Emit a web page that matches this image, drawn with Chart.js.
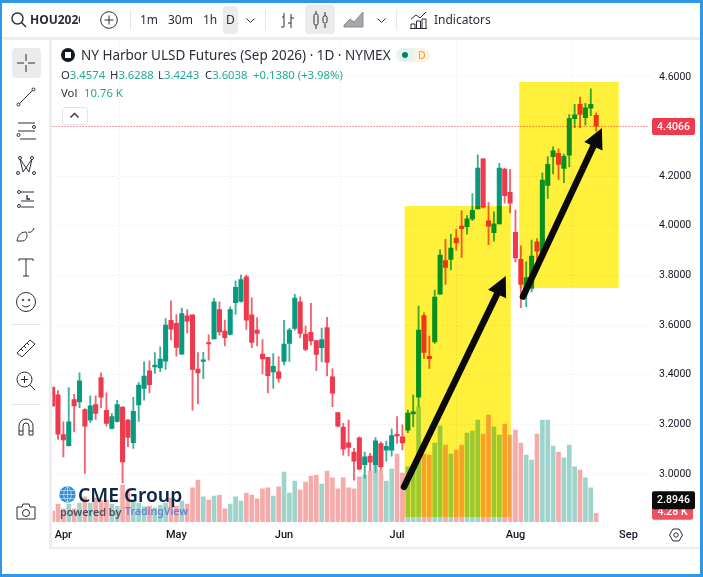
<!DOCTYPE html>
<html>
<head>
<meta charset="utf-8">
<title>NY Harbor ULSD Futures</title>
<script src="https://cdn.jsdelivr.net/npm/chart.js@4/dist/chart.umd.min.js"></script>
<style>
    html, body { margin: 0; padding: 0; background: #fff; }
    #page { position: relative; width: 703px; height: 577px; overflow: hidden; background: #fff; font-family: "Noto Sans", sans-serif; color: #131722; }
    #page > * { position: absolute; }
    canvas { left: 0; top: 0; z-index: 1; }
    .frame { background: #2f97e6; z-index: 5; }
    .band { background: #eceef1; }
    .bg { background: #ebebeb; border-radius: 4px; }
    .tb { top: 11px; font-size: 12px; line-height: 18px; z-index: 2; white-space: nowrap; color: #2a2e39; }
    .leg { font-size: 11.3px; line-height: 14px; white-space: nowrap; z-index: 2; color: #2a2e39; }
    .leg b { font-weight: 400; color: #22ab94; }
    .sep { background: #e6e8ec; width: 1px; }
    svg { fill: none; stroke: #2a2e39; stroke-width: 1; overflow: visible; z-index: 2; }
    .logo { z-index: 3; white-space: nowrap; }
</style>
</head>
<body>
<div id="page">
    <canvas id="priceChart" width="703" height="577"></canvas>

    <div class="frame" style="left:0;top:0;width:703px;height:3px"></div>
    <div class="frame" style="left:0;top:0;width:2px;height:577px"></div>
    <div class="frame" style="left:700px;top:0;width:3px;height:577px"></div>
    <div class="frame" style="left:0;top:574px;width:703px;height:3px"></div>
    <div class="band" style="left:2px;top:37px;width:698px;height:3px"></div>
    <div class="band" style="left:49px;top:40px;width:3px;height:508px"></div>
    <div class="band" style="left:49px;top:547px;width:651px;height:2px"></div>

    <!-- top toolbar -->
    <svg style="left:11px;top:12px" width="16" height="16"><circle cx="6.5" cy="6.5" r="5.5" stroke-width="1.4"/><path d="M10.5 10.5L15 15" stroke-width="1.4"/></svg>
    <div class="tb" style="left:30px;width:50px;overflow:hidden;font-weight:700">HOU2026</div>
    <svg style="left:100px;top:11px" width="18" height="18"><circle cx="9" cy="9" r="8.3"/><path d="M9 4.5v9M4.5 9h9"/></svg>
    <div class="sep" style="left:130px;top:10px;height:20px"></div>
    <div class="tb" style="left:140px">1m</div>
    <div class="tb" style="left:168px">30m</div>
    <div class="tb" style="left:203px">1h</div>
    <div class="bg" style="left:223px;top:6px;width:15px;height:28px"></div>
    <div class="tb" style="left:226px">D</div>
    <svg style="left:246px;top:18px" width="9" height="5"><path d="M.5 .5l4 4 4-4"/></svg>
    <div class="sep" style="left:265px;top:10px;height:20px"></div>
    <svg style="left:280px;top:12px" width="14" height="17"><path d="M4 1v14M1 15h3M4 5h-2M11 2v14M11 6h3M11 11h-3"/></svg>
    <div class="bg" style="left:305px;top:5px;width:30px;height:29px"></div>
    <svg style="left:313px;top:10px" width="15" height="20"><rect x="1" y="4" width="4" height="11" rx="1.5"/><path d="M3 1v3M3 15v4M12 2v4M12 14v4"/><rect x="10" y="6" width="4" height="7" rx="1.5"/></svg>
    <svg style="left:343px;top:11px" width="22" height="17"><path d="M1 14l6-6 4 3 9-10v15H1z" fill="#a5a7ad" stroke="#8a8d94"/></svg>
    <svg style="left:377px;top:18px" width="9" height="5"><path d="M.5 .5l4 4 4-4"/></svg>
    <div class="sep" style="left:396px;top:10px;height:20px"></div>
    <svg style="left:410px;top:11px" width="17" height="18"><path d="M1 8l5-4 4 3 6-6M1 17v-4h4v4M6.500 17v-7h4v7M12 17v-9h4v9M0 17.500h17"/></svg>
    <div class="tb" style="left:434px">Indicators</div>

    <!-- left tool column -->
    <div class="bg" style="left:12px;top:48px;width:29px;height:30px"></div>
    <svg style="left:16px;top:53px" width="20" height="20"><path d="M10 1v7M10 12v7M1 10h7M12 10h7"/></svg>
    <svg style="left:16px;top:87px" width="20" height="20"><path d="M3.500 16.500L16.500 3.500"/><circle cx="2.500" cy="17.500" r="1.500"/><circle cx="17.500" cy="2.500" r="1.500"/></svg>
    <svg style="left:16px;top:121px" width="20" height="20"><path d="M2 2h17M2 10h17M4 18h16"/><circle cx="18" cy="6" r="1.500"/><circle cx="2.500" cy="14" r="1.500"/></svg>
    <svg style="left:16px;top:155px" width="20" height="20"><path d="M4 4l3 13M16 4l-3 13M4 4l9 13M16 4l-9 13"/><circle cx="4" cy="3" r="1.500"/><circle cx="16" cy="3" r="1.500"/><circle cx="2" cy="18" r="1.500"/><circle cx="18" cy="18" r="1.500"/></svg>
    <svg style="left:16px;top:189px" width="20" height="20"><path d="M5 3h13M5 12h13M5 18h13"/><circle cx="3" cy="3" r="1.500"/><circle cx="3" cy="17" r="1.500"/><path d="M11 6v4h3" stroke-width="1.300"/></svg>
    <svg style="left:16px;top:224px" width="20" height="20"><path d="M1 17c1-7 5-9 9-9 2 3 1 8-3 9z"/><path d="M12 8c3 1 5-1 6-4"/></svg>
    <svg style="left:18px;top:258px" width="16" height="20"><path d="M1 3V1h14v2M8 1v17M5 18h6"/></svg>
    <svg style="left:16px;top:292px" width="20" height="20"><circle cx="10" cy="10" r="9.500"/><circle cx="7" cy="8" r=".8"/><circle cx="13" cy="8" r=".8"/><path d="M6 13c2 2.500 6 2.500 8 0"/></svg>
    <div class="sep" style="left:11px;top:324px;width:30px;height:1px"></div>
    <svg style="left:16px;top:338px" width="20" height="20"><path d="M1 15L14 2l5 4L6 19zM5 11l2 2M8 8l2 2M11 5l2 2"/></svg>
    <svg style="left:16px;top:371px" width="20" height="20"><circle cx="8.500" cy="8.500" r="7.500"/><path d="M14 14l5 5M8.500 5v7M5 8.500h7"/></svg>
    <div class="sep" style="left:11px;top:404px;width:30px;height:1px"></div>
    <svg style="left:18px;top:418px" width="16" height="18"><path d="M1 17V8a7 7 0 0 1 14 0v9h-4V8a3 3 0 0 0-6 0v9zM1 13h4M11 13h4"/></svg>
    <svg style="left:16px;top:503px" width="20" height="17"><path d="M1 4h5l1-3h6l1 3h5v12H1z"/><circle cx="10" cy="10" r="3.500"/></svg>

    <!-- legend -->
    <div style="left:61px;top:48px;width:14px;height:14px;border-radius:50%;background:#131722;z-index:2"></div>
    <div style="left:65px;top:52px;width:6px;height:6px;background:#fff;z-index:2"></div>
    <div class="leg" id="title" style="left:81px;top:46px;font-size:13.500px;line-height:18px">NY Harbor ULSD Futures (Sep 2026) · 1D · NYMEX</div>
    <div style="left:396px;top:48px;width:18px;height:14px;background:#e5f4f1;border-radius:7px 0 0 7px;z-index:2"></div>
    <div style="left:414px;top:48px;width:16px;height:14px;background:#fdf3e3;border-radius:0 7px 7px 0;z-index:2"></div>
    <div style="left:402px;top:52px;width:6px;height:6px;border-radius:50%;background:#087f6c;z-index:2"></div>
    <div class="leg" style="left:418px;top:48px;font-size:10.500px;color:#f59d2a">D</div>
    <div class="leg" style="left:61px;top:68px">O<b>3.4574</b></div>
    <div class="leg" style="left:110px;top:68px">H<b>3.6288</b></div>
    <div class="leg" style="left:158px;top:68px">L<b>3.4243</b></div>
    <div class="leg" style="left:205px;top:68px">C<b>3.6038</b></div>
    <div class="leg" style="left:253px;top:68px"><b>+0.1380 (+3.98%)</b></div>
    <div class="leg" style="left:61px;top:86px">Vol</div>
    <div class="leg" style="left:84px;top:86px"><b>10.76 K</b></div>
    <div style="left:62px;top:107px;width:24px;height:16px;background:#fff;border:1px solid #e0e3eb;border-radius:3px;z-index:2"></div>
    <svg style="left:70px;top:113px" width="9" height="5"><path d="M.5 4.500l4-4 4 4" stroke-width="1.400"/></svg>

    <!-- watermark -->
    <svg class="logo" style="left:59px;top:486px" width="17" height="17"><circle cx="8.500" cy="8.500" r="8.200" fill="#2a8fd6" stroke="none"/><path d="M.3 8.500h16.400M1.500 4.500h14M1.500 12.500h14M8.500 .3v16.400M8.500 .5c-5 4-5 12 0 16M8.500 .5c5 4 5 12 0 16" stroke="#cfe6f7" stroke-width=".7"/></svg>
    <div class="logo" style="left:78px;top:482px;font-size:19.300px;line-height:26px;font-weight:600;color:#0b2545">CME Group</div>
    <div class="logo" style="left:60px;top:504px;font-size:10.800px;line-height:15px;font-weight:600;color:#4b4f5c">powered by</div>
    <div class="logo" style="left:125px;top:504px;font-size:10.500px;line-height:15px;font-weight:600;color:#6d7fd0">TradingView</div>

    <!-- settings wheel -->
    <svg style="left:669px;top:528px" width="14" height="14"><path d="M4 1h6l3.500 6-3.500 6H4L.5 7z"/><circle cx="7" cy="7" r="2.200"/></svg>
</div>

<script>
// Daily candles, oldest first (Apr to late Aug)
const opens = [
    3.349, 3.319, 3.159, 3.114, 3.300, 3.291, 3.260, 3.217, 3.280, 3.389,
    3.257, 3.184, 3.212, 3.270, 3.217, 3.126, 3.278, 3.345, 3.416, 3.432,
    3.428, 3.455, 3.619, 3.607, 3.483, 3.637, 3.641, 3.423, 3.454, 3.529,
    3.544, 3.663, 3.576, 3.563, 3.690, 3.696, 3.795, 3.641, 3.580, 3.483,
    3.470, 3.411, 3.412, 3.454, 3.526, 3.587, 3.694, 3.564, 3.571, 3.538,
    3.509, 3.590, 3.392, 3.248, 3.189, 3.126, 3.088, 3.146, 3.038, 3.072,
    3.038, 3.123, 3.096, 3.096, 3.157, 3.150, 3.177, 3.242, 3.310, 3.638,
    3.474, 3.532, 3.725, 3.860, 3.865, 3.951, 3.999, 3.997, 4.028, 4.068,
    4.270, 4.020, 3.973, 4.008, 4.229, 4.135, 3.974, 3.865, 3.748, 3.748,
    3.936, 3.896, 4.163, 4.279, 4.292, 4.232, 4.285, 4.432, 4.490, 4.436,
    4.474, 4.445
];
const highs = [
    3.352, 3.336, 3.210, 3.348, 3.321, 3.408, 3.264, 3.315, 3.315, 3.408,
    3.327, 3.244, 3.297, 3.271, 3.220, 3.309, 3.368, 3.452, 3.456, 3.489,
    3.513, 3.626, 3.698, 3.643, 3.669, 3.663, 3.641, 3.489, 3.490, 3.561,
    3.708, 3.694, 3.620, 3.674, 3.779, 3.802, 3.802, 3.710, 3.630, 3.542,
    3.470, 3.485, 3.473, 3.619, 3.587, 3.724, 3.714, 3.596, 3.688, 3.538,
    3.588, 3.631, 3.424, 3.248, 3.204, 3.217, 3.103, 3.150, 3.088, 3.083,
    3.147, 3.130, 3.133, 3.181, 3.231, 3.198, 3.258, 3.318, 3.677, 3.650,
    3.556, 3.741, 3.903, 3.946, 3.966, 3.987, 4.061, 4.041, 4.130, 4.286,
    4.271, 4.095, 4.057, 4.252, 4.232, 4.228, 4.064, 3.920, 3.855, 3.943,
    3.949, 4.214, 4.279, 4.319, 4.310, 4.289, 4.449, 4.490, 4.519, 4.494,
    4.552, 4.456
];
const lows = [
    3.271, 3.139, 3.069, 3.112, 3.170, 3.267, 3.002, 3.208, 3.220, 3.267,
    3.193, 3.182, 3.209, 2.964, 3.110, 3.103, 3.212, 3.298, 3.327, 3.405,
    3.412, 3.421, 3.540, 3.475, 3.483, 3.569, 3.257, 3.282, 3.384, 3.459,
    3.544, 3.560, 3.516, 3.560, 3.643, 3.693, 3.583, 3.509, 3.516, 3.403,
    3.327, 3.345, 3.370, 3.440, 3.454, 3.580, 3.549, 3.497, 3.520, 3.416,
    3.452, 3.395, 3.271, 3.190, 3.076, 3.073, 2.975, 3.016, 2.982, 3.013,
    3.005, 3.018, 3.052, 3.072, 3.123, 3.097, 3.167, 3.191, 3.271, 3.466,
    3.426, 3.526, 3.725, 3.764, 3.822, 3.903, 3.873, 3.967, 4.021, 4.068,
    4.071, 3.924, 3.938, 4.008, 4.091, 4.053, 3.855, 3.670, 3.674, 3.734,
    3.855, 3.896, 4.111, 4.209, 4.187, 4.174, 4.238, 4.396, 4.396, 4.406,
    4.444, 4.382
];
const closes = [
    3.274, 3.161, 3.137, 3.210, 3.274, 3.376, 3.193, 3.275, 3.244, 3.310,
    3.204, 3.231, 3.280, 3.049, 3.147, 3.253, 3.358, 3.395, 3.360, 3.439,
    3.463, 3.600, 3.584, 3.510, 3.647, 3.616, 3.421, 3.407, 3.459, 3.524,
    3.694, 3.573, 3.549, 3.663, 3.752, 3.784, 3.620, 3.530, 3.567, 3.464,
    3.396, 3.434, 3.385, 3.524, 3.580, 3.709, 3.567, 3.502, 3.536, 3.482,
    3.542, 3.450, 3.326, 3.193, 3.100, 3.107, 3.052, 3.020, 3.069, 3.048,
    3.134, 3.029, 3.112, 3.155, 3.154, 3.125, 3.246, 3.251, 3.580, 3.490,
    3.465, 3.713, 3.882, 3.833, 3.911, 3.931, 3.989, 4.028, 4.063, 4.233,
    4.075, 3.999, 4.008, 4.233, 4.122, 4.091, 3.871, 3.764, 3.792, 3.878,
    3.898, 4.185, 4.248, 4.302, 4.248, 4.280, 4.432, 4.447, 4.449, 4.476,
    4.490, 4.402
];
// Volume in thousands
const volumes = [
    5.4, 8.8, 6.4, 8.8, 6.4, 9.3, 12.3, 9.3, 11.8, 10.8,
    10.8, 8.8, 7.8, 18.1, 14.7, 9.8, 9.3, 7.4, 7.8, 6.9,
    8.3, 9.3, 11.8, 7.8, 10.3, 8.8, 16.7, 20.6, 12.3, 10.8,
    12.7, 13.2, 6.4, 8.8, 12.3, 10.3, 14.2, 13.2, 11.3, 16.2,
    16.7, 12.7, 17.2, 24.5, 14.2, 20.1, 15.7, 19.6, 22.5, 23.0,
    18.6, 25.0, 21.6, 16.2, 21.6, 16.7, 16.2, 22.1, 23.0, 25.0,
    27.9, 25.5, 20.1, 26.0, 33.3, 24.0, 27.0, 27.9, 56.4, 33.3,
    32.8, 38.7, 47.0, 37.7, 33.3, 35.3, 37.7, 43.6, 44.6, 50.0,
    43.1, 52.4, 46.6, 42.6, 48.0, 42.6, 45.1, 38.7, 32.8, 30.4,
    43.1, 50.0, 50.0, 37.2, 34.3, 31.4, 37.7, 27.0, 25.5, 21.6,
    16.7, 4.28
];

const monthNames = ['Apr', 'May', 'Jun', 'Jul', 'Aug', 'Sep'];
const monthStarts = [2, 23, 43, 64, 86, 107];
const priceTicks = [3.0, 3.2, 3.4, 3.6, 3.8, 4.0, 4.2, 4.6];
const dayCount = 112;

const lastPrice = 4.4066;
const cursorPrice = 2.8946;
const lastVolume = '4.28 K';

// Highlight boxes and arrows, in bar index and price
const boxStarts = [65.4, 86.7];
const boxEnds = [85.13, 105.2];
const boxTops = [4.08, 4.58];
const boxBottoms = [2.827, 3.75];
const arrowFromX = [65.3, 87.4];
const arrowFromY = [2.948, 3.715];
const arrowToX = [84.2, 102.06];
const arrowToY = [3.798, 4.394];

const UP = '#089981';
const DOWN = '#ef3a4d';
const UP_WICK = '#3fae9b';
const DOWN_WICK = '#f0636f';
const UP_VOL = '#9dd5cd';
const DOWN_VOL = '#f6abab';

const dayLabels = Array.from({ length: dayCount }, (_, i) => {
    const m = monthStarts.indexOf(i);
    return m >= 0 ? monthNames[m] : '';
});
const isUp = closes.map((c, i) => c >= opens[i]);

// Yellow boxes are multiplied over the candles, arrows go on top
const markup = {
    id: 'markup',
    afterDatasetsDraw(chart) {
        const { ctx, scales: { x, y }, chartArea } = chart;
        const lastY = y.getPixelForValue(lastPrice) + 1.5;

        ctx.save();
        ctx.setLineDash([1, 2]);
        ctx.strokeStyle = '#ef3a4d';
        ctx.beginPath();
        ctx.moveTo(chartArea.left, lastY);
        ctx.lineTo(chartArea.right, lastY);
        ctx.stroke();
        ctx.restore();

        ctx.save();
        ctx.globalCompositeOperation = 'multiply';
        ctx.fillStyle = 'rgb(255, 240, 60)';
        boxStarts.forEach((s, i) => {
            const left = x.getPixelForValue(s);
            const top = y.getPixelForValue(boxTops[i]);
            ctx.fillRect(left, top, x.getPixelForValue(boxEnds[i]) - left, y.getPixelForValue(boxBottoms[i]) - top);
        });
        ctx.restore();

        ctx.save();
        ctx.fillStyle = ctx.strokeStyle = '#0a0a0a';
        arrowFromX.forEach((fx, i) => {
            const x0 = x.getPixelForValue(fx);
            const y0 = y.getPixelForValue(arrowFromY[i]);
            const x1 = x.getPixelForValue(arrowToX[i]);
            const y1 = y.getPixelForValue(arrowToY[i]);
            const len = Math.hypot(x1 - x0, y1 - y0);
            const ux = (x1 - x0) / len;
            const uy = (y1 - y0) / len;
            const bx = x1 - ux * 20;
            const by = y1 - uy * 20;
            ctx.lineWidth = 6.5;
            ctx.lineCap = 'round';
            ctx.beginPath();
            ctx.moveTo(x0, y0);
            ctx.lineTo(bx, by);
            ctx.stroke();
            ctx.beginPath();
            ctx.moveTo(x1, y1);
            ctx.lineTo(bx - uy * 10, by + ux * 10);
            ctx.lineTo(bx + uy * 10, by - ux * 10);
            ctx.closePath();
            ctx.fill();
        });
        ctx.restore();
    },
    afterDraw(chart) {
        const { ctx, scales: { y } } = chart;
        const tag = (text, bg, cy, h, w) => {
            ctx.fillStyle = bg;
            ctx.beginPath();
            ctx.roundRect(652, cy - h / 2, w, h, 2);
            ctx.fill();
            ctx.fillStyle = '#fff';
            ctx.font = '500 10.5px Roboto';
            ctx.textAlign = 'center';
            ctx.textBaseline = 'middle';
            ctx.fillText(text, 652 + w / 2, cy + 0.5);
        };
        const cursorY = y.getPixelForValue(cursorPrice);
        tag(lastVolume, '#ef5160', cursorY + 12, 15, 41);
        tag(lastPrice.toFixed(4), '#ef3a4d', y.getPixelForValue(lastPrice) + 1.5, 17, 43);
        tag(cursorPrice.toFixed(4), '#0b0b0b', cursorY, 18, 43);
    }
};

new Chart(document.getElementById('priceChart'), {
    type: 'bar',
    data: {
        labels: dayLabels,
        datasets: [
            {
                label: 'Volume',
                data: volumes,
                yAxisID: 'yVol',
                backgroundColor: isUp.map(u => u ? UP_VOL : DOWN_VOL),
                barThickness: 4,
                grouped: false,
                order: 3
            },
            {
                label: 'Wick',
                data: highs.map((h, i) => [lows[i], h]),
                yAxisID: 'y',
                backgroundColor: isUp.map(u => u ? UP_WICK : DOWN_WICK),
                barThickness: 1.2,
                grouped: false,
                order: 2
            },
            {
                label: 'Body',
                data: opens.map((o, i) => [o, closes[i]]),
                yAxisID: 'y',
                backgroundColor: isUp.map(u => u ? UP : DOWN),
                barThickness: 4.4,
                minBarLength: 1.5,
                grouped: false,
                order: 1
            }
        ]
    },
    options: {
        responsive: false,
        animation: false,
        events: [],
        layout: { padding: { left: 52.6, top: 42, right: 3, bottom: 30 } },
        plugins: { legend: { display: false }, tooltip: { enabled: false } },
        scales: {
            x: {
                offset: false,
                afterBuildTicks: axis => { axis.ticks = axis.ticks.filter(t => monthStarts.includes(t.value)); },
                afterFit: axis => { axis.height = 25; },
                grid: { color: '#e2e4ea', drawTicks: false },
                border: { display: false, dash: [1, 3] },
                ticks: {
                    autoSkip: false,
                    maxRotation: 0,
                    padding: 7,
                    color: '#131722',
                    font: { family: 'Roboto', size: 11, weight: '500' }
                }
            },
            y: {
                position: 'right',
                min: 2.8066,
                max: 4.741,
                afterBuildTicks: axis => { axis.ticks = priceTicks.map(value => ({ value })); },
                afterFit: axis => { axis.width = 50; },
                grid: { color: '#e2e4ea', drawTicks: false },
                border: { display: false, dash: [1, 3] },
                ticks: {
                    padding: 9,
                    color: '#131722',
                    font: { family: 'Roboto', size: 10.5 },
                    callback: v => Number(v).toFixed(4)
                }
            },
            yVol: {
                display: false,
                min: 0,
                max: 235.2
            }
        }
    },
    plugins: [markup]
});
</script>
</body>
</html>
